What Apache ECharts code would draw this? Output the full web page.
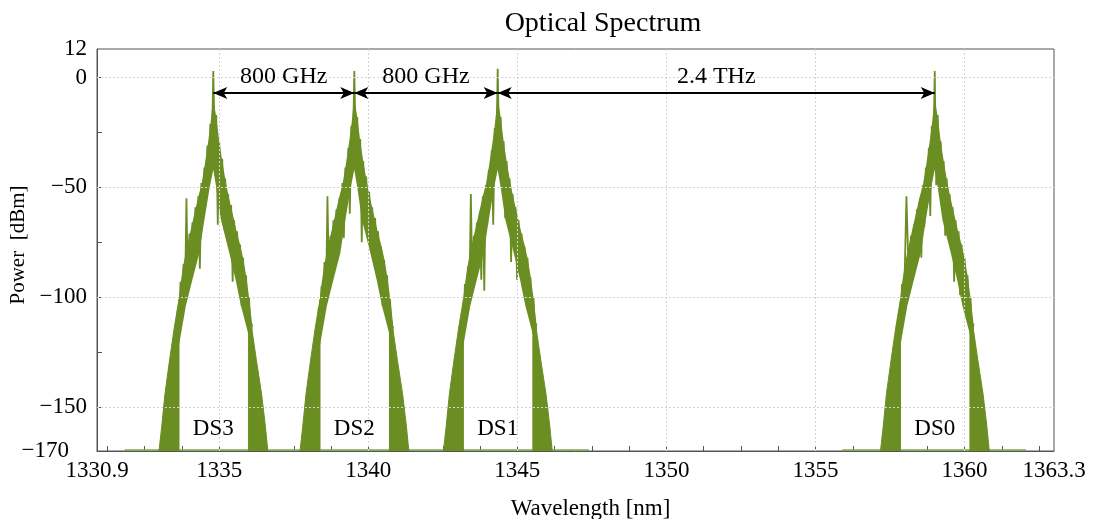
<!DOCTYPE html>
<html>
<head>
<meta charset="utf-8">
<script src="https://cdn.jsdelivr.net/npm/echarts@6/dist/echarts.min.js"></script>
<style>
html,body{margin:0;padding:0;background:#fff;}
#main{width:1097px;height:519px;}
</style>
</head>
<body>
<div id="main"></div>
<script>
// channel centres [nm] and names
var peakNames=['DS3','DS2','DS1','DS0'];
var peakCenters=[1334.80,1339.53,1344.34,1359.00];

// offsets of the sampled spectrum around each centre [nm]
var bodyOffsets=[-1.20,-1.15,-1.10,-1.05,-1.00,-0.95,-0.90,-0.85,-0.80,-0.75,-0.70,-0.65,-0.60,-0.55,-0.50,-0.45,-0.40,-0.35,-0.30,-0.25,-0.20,-0.15,-0.10,-0.05,
  0.00,0.05,0.10,0.15,0.20,0.25,0.30,0.35,0.40,0.45,0.50,0.55,0.60,0.65,0.70,0.75,0.80,0.85,0.90,0.95,1.00,1.05,1.10,1.15,1.20,1.25,1.30];

// power [dBm]
var ds3Power=[-106,-118,-93,-110,-85,-101,-55,-97,-71,-90,-66,-80,-59,-76,-54,-87,-48,-66,-41,-58,-31,-50,-21,-36,
  3,-30,-17,-67,-29,-50,-37,-60,-46,-68,-53,-76,-58,-93,-65,-85,-70,-92,-76,-104,-82,-102,-90,-110,-100,-118,-112];
var ds2Power=[-105,-116,-95,-108,-84,-103,-54,-95,-72,-88,-65,-84,-60,-78,-55,-72,-48,-73,-41,-56,-32,-62,-22,-38,
  3,-32,-18,-45,-28,-75,-38,-58,-45,-66,-52,-70,-59,-77,-64,-86,-70,-90,-77,-104,-83,-100,-90,-112,-101,-117,-113];
var ds1Power=[-107,-117,-94,-109,-86,-100,-53,-96,-72,-89,-66,-82,-61,-92,-54,-97,-49,-67,-42,-57,-33,-67,-23,-38,
  4,-33,-18,-48,-29,-64,-38,-57,-46,-84,-53,-73,-59,-92,-65,-84,-71,-89,-77,-98,-82,-101,-91,-111,-100,-116,-112];
var ds0Power=[-106,-118,-94,-107,-85,-54,-78,-97,-72,-90,-67,-84,-60,-79,-55,-82,-49,-68,-41,-58,-32,-63,-22,-37,
  3,-49,-17,-46,-29,-55,-38,-72,-46,-66,-53,-74,-59,-93,-65,-84,-70,-99,-76,-95,-82,-101,-90,-110,-100,-117,-112];
var peakPower=[ds3Power,ds2Power,ds1Power,ds0Power];

// solid band of each channel: outer (upper) edge and inner (white) edge
var envUpOff=[-1.20,-1.10,-1.00,-0.90,-0.80,-0.70,-0.60,-0.50,-0.40,-0.30,-0.20,-0.10,-0.04,0.04,0.10,0.20,0.30,0.40,0.50,0.60,0.70,0.80,0.90,1.00,1.10,1.20,1.30];
var envUpDb=[-106,-94,-85,-78,-72,-66,-60,-54,-49,-41,-32,-22,-14,-13,-18,-29,-38,-46,-53,-59,-65,-71,-76,-82,-90,-100,-112];
var envLowOff=[-1.20,-1.10,-0.92,-0.70,-0.47,-0.30,-0.12,0.00,0.10,0.26,0.54,0.75,0.93,1.20,1.30];
var envLowDb=[-126,-118,-104,-92,-80,-65,-50,-42,-50,-65,-80,-92,-104,-118,-126];

// dense lower skirts (outer edge)
var wedgeLeftOff=[-1.82,-1.73,-1.62,-1.47,-1.31,-1.15,-1.15];
var wedgeLeftDb=[-170,-159,-144,-129,-114,-101,-170];
var wedgeRightOff=[1.18,1.18,1.30,1.45,1.62,1.75,1.83];
var wedgeRightDb=[-170,-104,-115,-129,-144,-159,-170];

// noise floor segments
var floorStart=[1331.83,1355.90];
var floorEnd=[1347.40,1362.06];
var floorDb=-169.5;

// spacing annotations
var annFrom=[1334.80,1339.53,1344.34];
var annTo=[1339.53,1344.34,1359.00];
var annText=['800 GHz','800 GHz','2.4 THz'];
var annDb=-7;
var dsLabelDb=-160;

// axes
var xMin=1330.9, xMax=1363.0;
var xLabelVals=[1330.9,1335,1340,1345,1350,1355,1360,1363.0];
var xLabels=['1330.9','1335','1340','1345','1350','1355','1360','1363.3'];
var xTickVals=[1331.25,1332.5,1333.75,1335,1336.25,1337.5,1338.75,1340,1341.25,1342.5,1343.75,1345,1346.25,1347.5,1348.75,1350,
  1351.25,1352.5,1353.75,1355,1356.25,1357.5,1358.75,1360,1361.25,1362.5];
var xGrid=[1335,1340,1345,1350,1355,1360];
var yMin=-170, yMax=13;
var yLabelVals=[-170,-150,-100,-50,0,13];
var yLabels=['\u2212170','\u2212150','\u2212100','\u221250','0','12'];
var yTickVals=[-150,-125,-100,-75,-50,-25,0];
var yGrid=[0,-50,-100,-150];

var FONT='Liberation Serif';
var GREEN='#6b8e23';

function lookup(vals,labels,v){
  for(var i=0;i<vals.length;i++){ if(Math.abs(vals[i]-v)<1e-6) return labels[i]; }
  return '';
}

var series=[];
// grid lines
var gridData=[];
xGrid.forEach(function(v){ gridData.push({xAxis:v}); });
yGrid.forEach(function(v){ gridData.push({yAxis:v}); });

// floor
var floorData=[];
for(var f=0;f<floorStart.length;f++){
  if(f>0) floorData.push([floorEnd[f-1]+0.01,'-']);
  floorData.push([floorStart[f],floorDb]);
  floorData.push([floorEnd[f],floorDb]);
}
series.push({
  type:'line',z:1,data:floorData,symbol:'none',silent:true,
  lineStyle:{color:'#84a84a',width:1.5},
  markLine:{silent:true,symbol:'none',label:{show:false},
    lineStyle:{color:'#d4d4d4',type:[2,2],width:1},data:gridData}
});

// solid band under the noisy trace
series.push({
  type:'custom',z:2,silent:true,
  data:peakCenters.map(function(c){ return [c,-50]; }),
  renderItem:function(params,api){
    var c=api.value(0), pts=[], i;
    for(i=0;i<envUpOff.length;i++) pts.push(api.coord([c+envUpOff[i],envUpDb[i]]));
    for(i=envLowOff.length-1;i>=0;i--) pts.push(api.coord([c+envLowOff[i],envLowDb[i]]));
    return {type:'polygon',shape:{points:pts},style:{fill:GREEN}};
  }
});

for(var p=0;p<peakCenters.length;p++){
  var c=peakCenters[p];
  var body=bodyOffsets.map(function(o,i){ return [+(c+o).toFixed(3),peakPower[p][i]]; });
  series.push({type:'line',z:3,data:body,symbol:'none',silent:true,
    lineStyle:{color:GREEN,width:1.8}});
  var wl=wedgeLeftOff.map(function(o,i){ return [+(c+o).toFixed(3),wedgeLeftDb[i]]; });
  var wr=wedgeRightOff.map(function(o,i){ return [+(c+o).toFixed(3),wedgeRightDb[i]]; });
  [wl,wr].forEach(function(w){
    series.push({type:'line',z:2,data:w,symbol:'none',silent:true,
      lineStyle:{color:GREEN,width:1},
      areaStyle:{color:GREEN,opacity:1,origin:'start'}});
  });
}

// arrows and channel names
var annData=[];
for(var a=0;a<annFrom.length;a++){
  annData.push([{coord:[annFrom[a],annDb]},{coord:[annTo[a],annDb],name:annText[a]}]);
}
series.push({
  type:'scatter',z:5,symbolSize:0,silent:true,itemStyle:{opacity:1},
  data:peakCenters.map(function(c,i){ return [c,dsLabelDb,peakNames[i]]; }),
  label:{show:true,position:'inside',formatter:function(pr){return pr.value[2];},
    fontFamily:FONT,fontSize:23,color:'#000',opacity:1},
  markLine:{silent:true,symbol:['arrow','arrow'],symbolSize:[9,14],
    lineStyle:{color:'#000',width:2,type:'solid'},
    label:{show:true,position:'middle',formatter:'{b}',fontFamily:FONT,fontSize:24,color:'#000',distance:4},
    data:annData}
});

var chart=echarts.init(document.getElementById('main'));
chart.setOption({
  animation:false,
  backgroundColor:'#fff',
  title:{text:'Optical Spectrum',left:598,top:5,textAlign:'center',
    textStyle:{fontFamily:FONT,fontSize:28,fontWeight:'normal',color:'#000'}},
  grid:{left:97,right:43,top:49,bottom:68,show:true,borderColor:'#555',borderWidth:1,
    containLabel:false,outerBoundsMode:'none'},
  xAxis:{type:'value',min:xMin,max:xMax,
    name:'Wavelength [nm]',nameLocation:'middle',nameGap:46,nameMoveOverlap:false,
    nameTextStyle:{fontFamily:FONT,fontSize:23,color:'#000',padding:[0,0,0,30]},
    axisLine:{show:true,onZero:false,lineStyle:{color:'#555'}},
    axisTick:{show:true,inside:true,length:5,customValues:xTickVals,lineStyle:{color:'#555'}},
    axisLabel:{customValues:xLabelVals,formatter:function(v){return lookup(xLabelVals,xLabels,v);},
      fontFamily:FONT,fontSize:23,color:'#000',margin:8},
    splitLine:{show:false}},
  yAxis:{type:'value',min:yMin,max:yMax,
    name:'Power  [dBm]',nameLocation:'middle',nameGap:68,nameMoveOverlap:false,
    nameTextStyle:{fontFamily:FONT,fontSize:21,color:'#000',padding:[0,0,0,10]},
    axisLine:{show:true,onZero:false,lineStyle:{color:'#555'}},
    axisTick:{show:true,inside:true,length:5,customValues:yTickVals,lineStyle:{color:'#555'}},
    axisLabel:{customValues:yLabelVals,
      formatter:function(v){ var t=lookup(yLabelVals,yLabels,v); return v===yMin?'{s|'+t+'}':t; },
      rich:{s:{fontFamily:FONT,fontSize:23,color:'#000',padding:[0,18,0,0]}},
      fontFamily:FONT,fontSize:23,color:'#000',margin:10},
    splitLine:{show:false}},
  series:series
});
</script>
</body>
</html>
